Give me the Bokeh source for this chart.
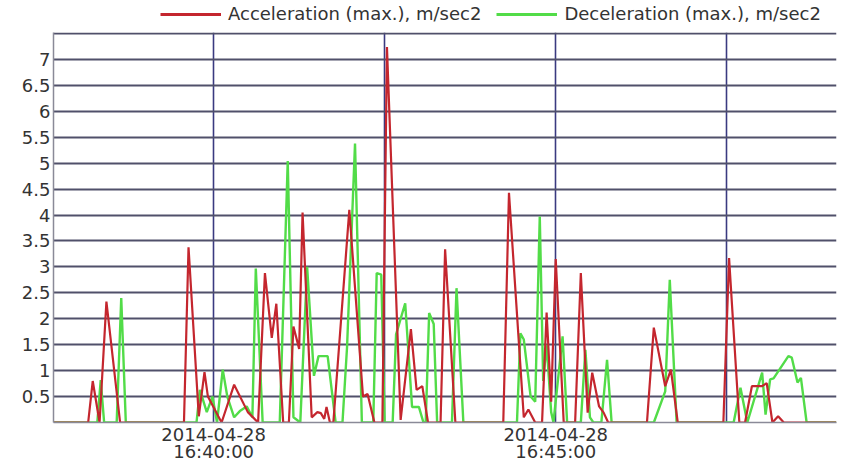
import numpy as np
from bokeh.plotting import figure
from bokeh.layouts import column
from bokeh.models import (Range1d, FixedTicker, DatetimeTickFormatter,
                          CustomJSTickFormatter, Legend, LegendItem)
from bokeh.embed import file_html
from bokeh.resources import INLINE

# ---- data (time offsets in seconds from 2014-04-28 16:40:00) ----
BASE_TIME = "2014-04-28T16:40:00"

accel_t = [-140, -110, -106, -100, -94, -82, -26, -22, -13, -8, -5, 7, 18, 30, 39,
           45, 51, 55, 61, 66, 70, 75, 78, 86, 91, 94, 97, 99, 102, 105, 119, 131,
           135, 141, 148, 152, 164, 173, 178, 183, 188, 199, 203, 212, 254, 259,
           272, 276, 282, 288, 292, 296, 300, 307, 317, 322, 328, 332, 338, 342,
           346, 380, 386, 396, 401, 407, 447, 452, 461, 466, 472, 481, 485, 490,
           495, 500, 546]
accel_v = [0, 0, 0.8, 0, 2.33, 0, 0, 3.38, 0.12, 0.97, 0.5, 0, 0.73, 0.2, 0,
           2.88, 1.63, 2.29, 0, 0, 1.85, 1.42, 4.05, 0.1, 0.2, 0.18, 0.07, 0.3, 0, 0, 4.1, 0.5,
           0.55, 0, 0, 7.24, 0.05, 1.8, 0.63, 0.7, 0, 0, 3.34, 0, 0, 4.43,
           0.1, 0.25, 0, 0, 2.12, 0.4, 3.15, 0, 0, 2.88, 0.19, 0.96, 0.31, 0.19,
           0, 0, 1.83, 0.7, 1.02, 0, 0, 3.17, 0, 0, 0.7, 0.7, 0.76, 0,
           0.12, 0, 0]

decel_t = [-140, -102, -99, -96, -85, -81, -77, -15, -12, -6, -1, 3, 8, 12, 18, 23,
           29, 34, 37, 43, 58, 65, 70, 76, 82, 88, 92, 100, 107, 113, 117, 124,
           130, 140, 143, 147, 150, 157, 160, 168, 174, 180, 184, 186, 189, 193,
           196, 209, 213, 219, 266, 269, 272, 278, 282, 286, 289, 292, 296, 298,
           306, 310, 322, 326, 330, 333, 340, 345, 349, 386, 396, 400, 406, 456,
           462, 468, 481, 484, 488, 491, 504, 507, 512, 515, 520, 546]
decel_v = [0, 0, 0.82, 0, 0, 2.4, 0, 0, 0.63, 0.2, 0.5, 0, 1.02, 0.5, 0.1, 0.22,
           0.31, 0.1, 2.97, 0, 0, 5.04, 0.1, 0, 3.0, 0.9, 1.28, 1.28, 0, 0, 1.45, 5.38,
           0, 0, 2.88, 2.85, 0, 0, 1.7, 2.3, 0.3, 0.3, 0, 0, 2.11, 1.9,
           0, 0, 2.59, 0, 0, 1.72, 1.6, 0.5, 0.4, 3.97, 0.8, 1.5, 0.2, 0,
           1.66, 0, 0, 1.4, 0.1, 0, 0, 1.21, 0, 0, 0.6, 2.75, 0, 0,
           0.67, 0, 0.96, 0.15, 0.83, 0.85, 1.28, 1.25, 0.77, 0.86, 0, 0]

series_labels = ["Acceleration (max.), m/sec2", "Deceleration (max.), m/sec2"]
series_colors = ["#c4262e", "#52dc48"]
y_ticks = [0.5, 1, 1.5, 2, 2.5, 3, 3.5, 4, 4.5, 5, 5.5, 6, 6.5, 7]
y_grid = [0.5, 1, 1.5, 2, 2.5, 3, 3.5, 4, 4.5, 5, 5.5, 6, 6.5, 7, 7.5]
x_label_offsets = [0, 300]          # 16:40:00, 16:45:00
x_grid_offsets = [0, 150, 300, 450]  # every 2.5 minutes
x_view = [-140.4, 546.2]
y_view = [0, 7.52]


def to_ms(secs):
    base = np.datetime64(BASE_TIME, "ms")
    arr = base + (np.array(secs, dtype=float) * 1000).astype("timedelta64[ms]")
    return arr.astype(np.int64).astype(float)


FONT = "DejaVu Sans"
W = 840

# ---------------- main chart ----------------
p = figure(width=W, height=433, x_axis_type="datetime",
           output_backend="svg", toolbar_location=None,
           min_border_left=53, min_border_right=4, min_border_top=0,
           min_border_bottom=42,
           x_range=Range1d(*to_ms(x_view)), y_range=Range1d(*y_view))
p.outline_line_color = None
p.background_fill_color = "white"
p.border_fill_color = "white"

p.line(to_ms(decel_t), decel_v, line_color=series_colors[1], line_width=2.4)
p.line(to_ms(accel_t), accel_v, line_color=series_colors[0], line_width=2.2)

p.xgrid.ticker = FixedTicker(ticks=list(to_ms(x_grid_offsets)))
p.xgrid.grid_line_color = "#3a3a80"
p.xgrid.grid_line_width = 1.6
p.ygrid.ticker = FixedTicker(ticks=y_grid)
p.ygrid.grid_line_color = "#50506a"
p.ygrid.grid_line_width = 2

p.xaxis.ticker = FixedTicker(ticks=list(to_ms(x_label_offsets)))
fmt = "%Y-%m-%d\n%H:%M:%S"
p.xaxis.formatter = DatetimeTickFormatter(seconds=fmt, minsec=fmt, minutes=fmt,
                                          hourmin=fmt, hours=fmt, days=fmt)
p.yaxis.ticker = FixedTicker(ticks=y_ticks)
p.yaxis.formatter = CustomJSTickFormatter(code="return tick.toString();")
for ax in (p.xaxis, p.yaxis):
    ax.major_tick_in = 0
    ax.major_tick_out = 0
    ax.minor_tick_in = 0
    ax.minor_tick_out = 0
    ax.axis_line_color = "#8a8a98"
    ax.axis_line_width = 1.5
    ax.major_label_text_font = FONT
    ax.major_label_text_font_size = "18px"
    ax.major_label_text_color = "#333333"
p.yaxis.major_label_standoff = 3
p.xaxis.major_label_standoff = 1
p.xaxis.major_label_text_line_height = 0.85

# ---------------- legend strip above the chart ----------------
# (its frame is aligned by the column layout with the chart's frame)
lg = figure(width=W, height=32, output_backend="svg", toolbar_location=None,
            x_axis_location=None, y_axis_location=None,
            min_border=0, x_range=Range1d(0, 1), y_range=Range1d(0, 1))
lg.outline_line_color = None
lg.grid.visible = False
lg.border_fill_color = "white"
lg.background_fill_color = "white"
nan2 = [np.nan, np.nan]
lr = lg.line(x=nan2, y=nan2, line_color=series_colors[0], line_width=2.8)
lgr = lg.line(x=nan2, y=nan2, line_color=series_colors[1], line_width=2.8)
legend = Legend(items=[LegendItem(label=series_labels[0], renderers=[lr]),
                       LegendItem(label=series_labels[1], renderers=[lgr])],
                orientation="horizontal", location=(107, 8),
                glyph_width=61, glyph_height=18, label_height=18,
                label_standoff=7, spacing=15, padding=0, margin=0,
                border_line_alpha=0, background_fill_alpha=0,
                label_text_font=FONT, label_text_font_size="18px",
                label_text_color="#333333")
lg.add_layout(legend, "center")

layout = column(lg, p, spacing=0)
open("out.html", "w").write(file_html(layout, INLINE))
